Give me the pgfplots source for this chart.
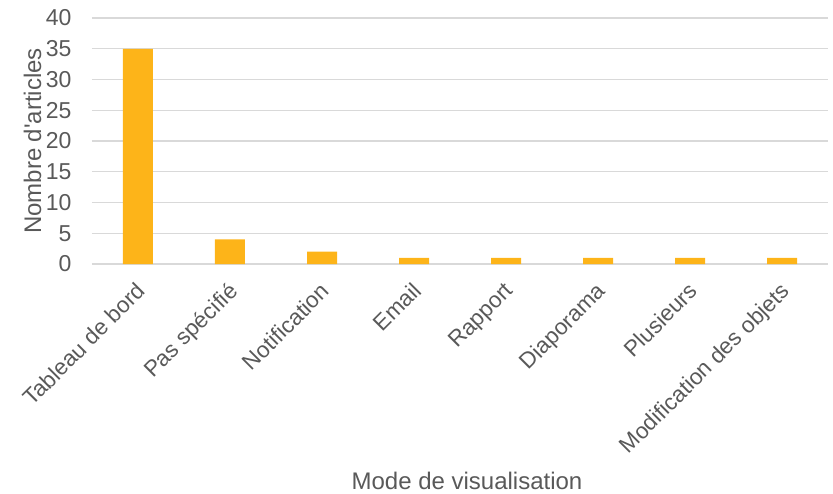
\documentclass[border=0pt]{standalone}
\usepackage{pgfplots}
\pgfplotsset{compat=1.18}
\usepackage{fontspec}
\setmainfont{Liberation Sans}
\newfontfamily\plainfont{Liberation Sans}
\definecolor{barc}{RGB}{253,180,25}
\definecolor{txt}{RGB}{89,89,89}
\definecolor{grd}{RGB}{217,217,217}
\begin{document}
\begin{tikzpicture}
\begin{axis}[
  at={(0pt,0pt)}, anchor=south west,
  scale only axis,
  width=736pt, height=246pt,
  xmin=-0.5, xmax=7.5,
  ymin=0, ymax=40,
  ytick={0,5,...,40},
  xtick=data,
  xticklabels={Tableau de bord,Pas spécifié,Notification,Email,Rapport,Diaporama,Plusieurs,Modification des objets},
  x tick label style={rotate=45, anchor=north east, font=\fontsize{22.5}{26}\selectfont, text=txt, inner sep=2pt, xshift=-12pt, yshift=-8pt},
  y tick label style={font=\fontsize{23}{26}\selectfont, text=txt},
  /pgf/number format/assume math mode=true,
  ymajorgrids, grid style={grd, line width=1.2pt},
  axis line style={draw=none},
  axis x line*=bottom,
  major tick length=0pt,
  tick style={draw=none},
  ylabel={\plainfont Nombre d'articles},
  xlabel={Mode de visualisation},
  label style={font=\fontsize{24}{27}\selectfont, text=txt},
  ylabel style={at={(axis description cs:0,0.5)}, anchor=south, yshift=47pt},
  xlabel style={at={(axis description cs:0.5,0)}, anchor=base, yshift=-225pt, xshift=7pt},
  yticklabel style={xshift=-17pt},
  clip=false,
]
\addplot[ybar, bar width=30pt, fill=barc, draw=none] coordinates {
(0,35) (1,4) (2,2) (3,1) (4,1) (5,1) (6,1) (7,1)};
\end{axis}
\pgfresetboundingbox
\path (-92pt,-229pt) rectangle (741pt,264pt);
\end{tikzpicture}
\end{document}
